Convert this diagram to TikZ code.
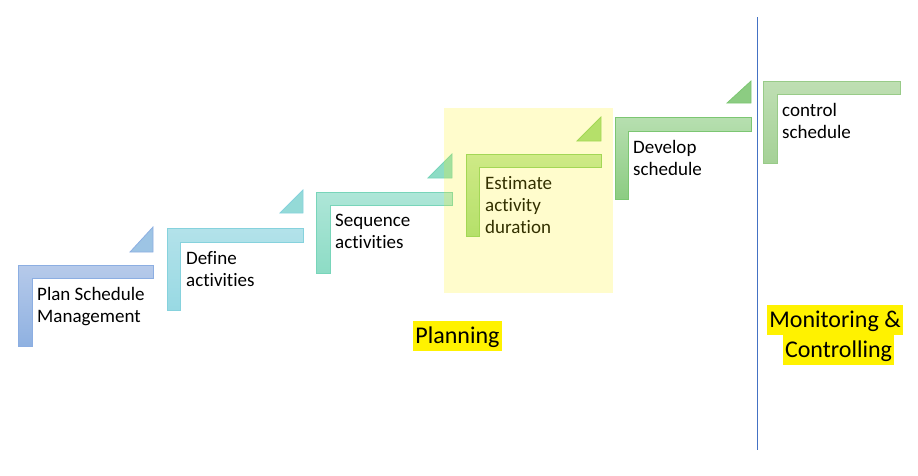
\documentclass[tikz,border=0pt]{standalone}
\usepackage{fontspec}
\setmainfont{Carlito}[Ligatures=NoCommon]
\usetikzlibrary{positioning}

\definecolor{blueA}{HTML}{B6CAEA}
\definecolor{blueB}{HTML}{8FB1E1}
\definecolor{blueL}{HTML}{8CAEE2}
\definecolor{cyanA}{HTML}{B3E2EA}
\definecolor{cyanB}{HTML}{98D9E3}
\definecolor{cyanL}{HTML}{86D2DD}
\definecolor{tealA}{HTML}{AEE6D8}
\definecolor{tealB}{HTML}{8DDCC5}
\definecolor{tealL}{HTML}{78D5BA}
\definecolor{limeA}{HTML}{C3E8A8}
\definecolor{limeB}{HTML}{A3DC85}
\definecolor{limeL}{HTML}{8DD16B}
\definecolor{grnA}{HTML}{B7DFB0}
\definecolor{grnB}{HTML}{8CCC82}
\definecolor{grnL}{HTML}{7CC672}
\definecolor{paleA}{HTML}{BFDFB3}
\definecolor{paleB}{HTML}{A5D197}
\definecolor{paleL}{HTML}{98CB88}
\definecolor{rulecol}{HTML}{4472C4}

\begin{document}
\begin{tikzpicture}[x=1pt,y=-1pt,
  stepbox/.style={line width=0.75pt},
  steptext/.style={anchor=north west, align=left, inner sep=0pt,
    font=\fontsize{19}{22}\selectfont},
  hilite/.style={fill=yellow, inner xsep=2.5pt, inner ysep=0pt,
    text height=22pt, text depth=8pt, font=\fontsize{24}{30}\selectfont}]

\useasboundingbox (0,0) rectangle (918,475);

% steps:
\draw[stepbox, draw=blueL, top color=blueA, bottom color=blueB] (18,265) -- (153,265) -- (153,278) -- (32,278) -- (32,346) -- (18,346) -- cycle;
\draw[stepbox, draw=cyanL, top color=cyanA, bottom color=cyanB] (167,228) -- (303,228) -- (303,242) -- (180,242) -- (180,310) -- (167,310) -- cycle;
\draw[stepbox, draw=tealL, top color=tealA, bottom color=tealB] (316,192) -- (452,192) -- (452,205) -- (330,205) -- (330,273) -- (316,273) -- cycle;
\draw[stepbox, draw=limeL, top color=limeA, bottom color=limeB] (466,154) -- (601,154) -- (601,167) -- (479,167) -- (479,236) -- (466,236) -- cycle;
\draw[stepbox, draw=grnL, top color=grnA, bottom color=grnB] (615,117) -- (751,117) -- (751,131) -- (628,131) -- (628,199) -- (615,199) -- cycle;
\draw[stepbox, draw=paleL, top color=paleA, bottom color=paleB] (763,81) -- (900,81) -- (900,94) -- (777,94) -- (777,163) -- (763,163) -- cycle;

% corners:
\draw[stepbox, draw=blueL, fill=blueA!40!blueB!70!cyanB] (130,252) -- (153,252) -- (153,227) -- cycle;
\draw[stepbox, draw=cyanL, fill=cyanB!60!tealB] (280,213) -- (303,213) -- (303,190) -- cycle;
\draw[stepbox, draw=tealL, fill=tealB] (428,178) -- (452,178) -- (452,154) -- cycle;
\draw[stepbox, draw=limeL, fill=limeB] (577,141) -- (601,141) -- (601,117) -- cycle;
\draw[stepbox, draw=grnL, fill=grnB] (727,103) -- (751,103) -- (751,81) -- cycle;

% texts:
\node[steptext] (plan) at (37,287) {Plan Schedule\\Management};
\node[steptext] (define) at (186,251) {Define\\activities};
\node[steptext] (sequence) at (335,214) {Sequence\\activities};
\node[steptext] (estimate) at (485,176) {Estimate\\activity\\duration};
\node[steptext] (develop) at (633,140) {Develop\\schedule};
\node[steptext] (control) at (782,103) {control\\schedule};

% planning area:
\fill[yellow, fill opacity=0.2] (444,108) rectangle (613,293);

\draw[draw=rulecol, line width=1pt] (757.5,17) -- (757.5,450);

\node[hilite] (planning) at (457.5,336) {Planning};
\node[hilite] (monitoring) at (835,320) {Monitoring \&};
\node[hilite] (controlling) at (838.5,350) {Controlling};

\end{tikzpicture}
\end{document}
